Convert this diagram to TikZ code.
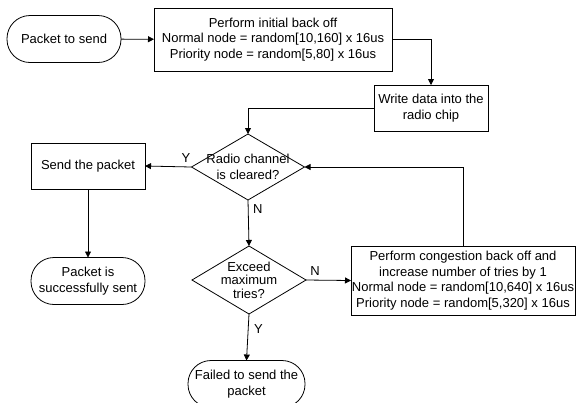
\documentclass[tikz,border=0pt]{standalone}
\usepackage{fontspec}
\setmainfont{Liberation Sans}
\usetikzlibrary{shapes.geometric,arrows.meta,positioning}

\begin{document}
\begin{tikzpicture}[x=1bp,y=-1bp,
  font=\fontsize{13bp}{15.5bp}\selectfont,
  every node/.style={inner sep=0pt,outer sep=0pt},
  flowbox/.style={draw,line width=0.8bp,align=center},
  terminal/.style={draw,line width=0.8bp,align=center,rounded corners=23bp,
        minimum width=114bp,minimum height=47bp},
  decision/.style={draw,line width=0.8bp,diamond,minimum width=113bp,minimum height=66bp},
  flow/.style={-{Triangle[length=6bp,width=6bp]},line width=0.8bp}]
  \useasboundingbox (0,0) rectangle (577,402);
  % nodes
  \node[terminal] (start) at (64,39) {Packet to send};
  \node[flowbox,minimum width=238bp,minimum height=63bp] (backoff) at (273,39.5)
        {Perform initial back off\\Normal node = random[10,160] x 16us\\Priority node = random[5,80] x 16us};
  \node[flowbox,minimum width=114bp,minimum height=46bp] (write) at (431,108)
        {Write data into the\\radio chip};
  \node[decision,label={[align=center,font=\fontsize{13bp}{15.5bp}\selectfont]center:Radio channel\\is cleared?}] (clear) at (248,167) {};
  \node[flowbox,minimum width=114bp,minimum height=46bp] (send) at (88,166) {Send the packet};
  \node[terminal] (sent) at (88,281) {Packet is\\successfully sent};
  \node[decision,minimum width=114bp,minimum height=68bp,
        label={[align=center,font=\fontsize{13bp}{13.5bp}\selectfont]center:Exceed\\maximum\\tries?}] (exceed) at (249,280) {};
  \node[flowbox,minimum width=224bp,minimum height=69bp] (congest) at (463,280.5)
        {Perform congestion back off and\\increase number of tries by 1\\Normal node = random[10,640] x 16us\\Priority node = random[5,320] x 16us};
  \node[terminal,minimum width=117bp] (failed) at (246.5,384) {Failed to send the\\packet};
  % connectors
  \draw[flow] (start) -- (backoff);
  \draw[flow] (backoff.east) -| (write.north);
  \draw[flow] (write.west) -| (clear.north);
  \draw[flow] (clear.west) -- (send.east) node[pos=0.12,above=4bp] {Y};
  \draw[flow] (send) -- (sent);
  \draw[flow] (clear.south) -- (exceed.north) node[pos=0.2,right=5bp] {N};
  \draw[flow] (exceed.east) -- (congest.west) node[pos=0.2,above=5bp] {N};
  \draw[flow] (congest.north) |- (clear.east);
  \draw[flow] (exceed.south) -- (failed.north) node[pos=0.33,right=6bp] {Y};
\end{tikzpicture}
\end{document}
